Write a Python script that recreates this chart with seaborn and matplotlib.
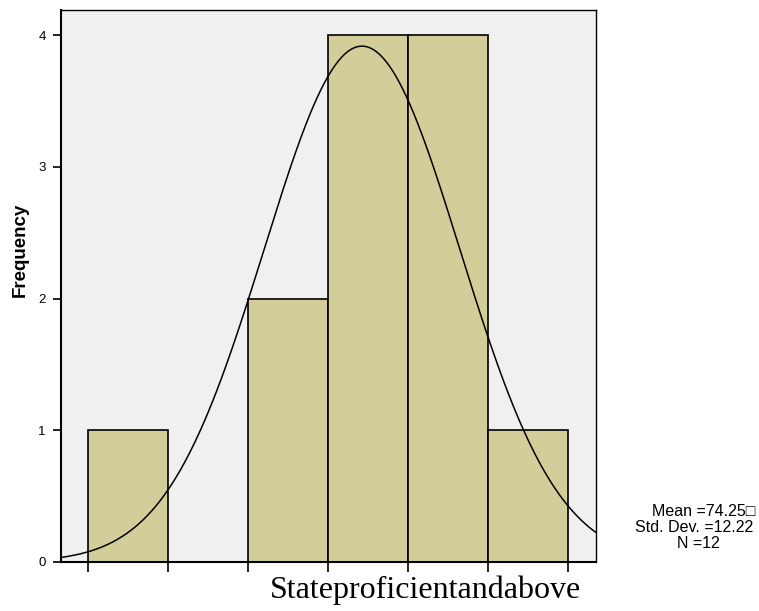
import numpy as np
import pandas as pd
import matplotlib
matplotlib.use("Agg")
import matplotlib.pyplot as plt
import seaborn as sns

# Histograma con curva normal (estilo SPSS)
bin_edges = [40, 50, 60, 70, 80, 90, 100]
counts = [1, 0, 2, 4, 4, 1]
mean_val = 74.25
std_val = 12.226
n_val = 12
yticks = [0, 1, 2, 3, 4]

mids = [(a + b) / 2 for a, b in zip(bin_edges[:-1], bin_edges[1:])]
df = pd.DataFrame({"x": mids, "w": counts})

sns.set_style("ticks", {"axes.edgecolor": "black", "text.color": "black",
                        "xtick.color": "black", "ytick.color": "black",
                        "axes.labelcolor": "black"})
plt.rcParams["font.family"] = ["Liberation Sans", "DejaVu Sans"]

fig = plt.figure(figsize=(7.59, 6.11), dpi=100)
ax = fig.add_axes([61 / 759, 49 / 611, 535 / 759, 552 / 611])
ax.set_facecolor("#F0F0F0")

sns.histplot(data=df, x="x", weights="w", bins=bin_edges, ax=ax,
             color="#D3CE99", alpha=1, edgecolor="black", linewidth=1.2)

# curva normal ajustada
width = bin_edges[1] - bin_edges[0]
xs = np.linspace(36.625, 103.5, 300)
ys = n_val * width * np.exp(-0.5 * ((xs - mean_val) / std_val) ** 2) / (std_val * np.sqrt(2 * np.pi))
ax.plot(xs, ys, color="black", linewidth=1.1)

ax.set_xlim(36.625, 103.5)
ax.set_ylim(0, 4.19)
ax.set_xticks(bin_edges)
ax.set_xticklabels([])
ax.set_yticks(yticks)
ax.set_yticklabels([str(t) for t in yticks], fontsize=9.5)
ax.tick_params(axis="x", length=7, width=1.2, direction="out")
ax.tick_params(axis="y", length=6, width=1.2, direction="out", pad=5)
ax.set_xlabel("")
ax.set_ylabel("")
for side in ["left", "bottom"]:
    ax.spines[side].set_linewidth(1.5)
for side in ["top", "right"]:
    ax.spines[side].set_linewidth(1.0)

fig.text(20 / 759, 1 - 250 / 611, "Frequency", fontsize=13.5, fontweight="bold",
         rotation=90, ha="center", va="center")

fig.text(426 / 759, 1 - 590 / 611, "Stateproficientandabove",
         fontsize=23, family=["Liberation Serif", "DejaVu Serif"],
         ha="center", va="center")

fig.text(652 / 759, 1 - 512 / 611, "Mean =74.25\u25a1", fontsize=11.5,
         ha="left", va="center")
fig.text(635 / 759, 1 - 527 / 611, "Std. Dev. =12.22", fontsize=11.5,
         ha="left", va="center")
fig.text(698 / 759, 1 - 543 / 611, "N =12", fontsize=11.5,
         ha="center", va="center")

fig.savefig("out.png", dpi=100)
